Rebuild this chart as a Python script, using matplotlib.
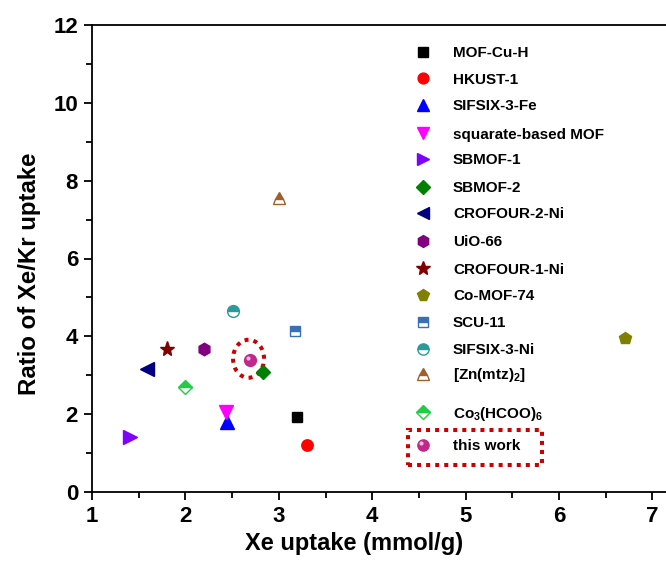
import matplotlib
matplotlib.use("Agg")
import matplotlib.pyplot as plt
from matplotlib.patches import Ellipse, Rectangle
from matplotlib.transforms import ScaledTranslation
from matplotlib.ticker import MultipleLocator

plt.rcParams['font.family'] = ['Liberation Sans', 'DejaVu Sans']
plt.rcParams['font.weight'] = 'bold'
plt.rcParams['mathtext.fontset'] = 'custom'
plt.rcParams['mathtext.rm'] = 'Liberation Sans:bold'
plt.rcParams['mathtext.bf'] = 'Liberation Sans:bold'
plt.rcParams['mathtext.default'] = 'bf'

# data
names = ["MOF-Cu-H", "HKUST-1", "SIFSIX-3-Fe", "squarate-based MOF", "SBMOF-1",
         "SBMOF-2", "CROFOUR-2-Ni", "UiO-66", "CROFOUR-1-Ni", "Co-MOF-74",
         "SCU-11", "SIFSIX-3-Ni", "[Zn(mtz)$_2$]", "Co$_3$(HCOO)$_6$", "this work"]
xe_uptake = [3.19, 3.30, 2.45, 2.43, 1.41, 2.83, 1.59, 2.20, 1.80, 6.71,
             3.17, 2.51, 3.00, 2.00, 2.69]
ratio = [1.92, 1.22, 1.81, 2.06, 1.42, 3.09, 3.15, 3.68, 3.68, 3.95,
         4.14, 4.66, 7.55, 2.69, 3.39]

markers = ['s', 'o', '^', 'v', '>', 'D', '<', 'h', '*', 'p', 's', 'o', '^', 'D', 'o']
colors = ['#000000', '#FF0000', '#0000FF', '#FF00FF', '#8000FF', '#008000', '#000080',
          '#800080', '#800000', '#808000', '#3A6EB5', '#2A9A9A', '#A0602A', '#22CC44', '#C0288C']
fills = ['full'] * 10 + ['top', 'top', 'top', 'top', 'full']
sizes = [7.3, 8.2, 9.5, 9.5, 9.5, 7, 9.5, 9, 11, 9, 7.5, 8.5, 9, 7.5, 8.5]

# legend layout (pixel rows from top of figure)
leg_rows_px = [51.7, 78.3, 105, 133, 159, 186.7, 213, 240.7, 268, 295,
               321.7, 349, 374, 412.3, 445]

W, H = 666, 576
AX_L, AX_B, AX_W, AX_H = 92, 84, 574, 467

fig = plt.figure(figsize=(W / 100, H / 100), dpi=100)
ax = fig.add_axes([AX_L / W, AX_B / H, AX_W / W, AX_H / H])

for n, x, y, m, c, f, s in zip(names, xe_uptake, ratio, markers, colors, fills, sizes):
    ax.plot([x], [y], linestyle='none', marker=m, color=c, markersize=s,
            fillstyle=f, markerfacecoloralt='white', markeredgecolor=c,
            markeredgewidth=1.0, zorder=3)

hl = ScaledTranslation(-1.5 / 72, 1.5 / 72, fig.dpi_scale_trans)
ax.plot([xe_uptake[-1]], [ratio[-1]], linestyle='none', marker='o', markersize=3,
        color='#F4B8DC', markeredgewidth=0, transform=ax.transData + hl, zorder=4)

# dotted circle around this work
ax.add_patch(Ellipse((2.676, 3.424), 0.332, 0.977, fill=False, edgecolor='#CC0000',
                     linewidth=2.9, linestyle=(0, (1, 1.25)), zorder=2))

ax.set_xlim(1, 7.145)
ax.set_ylim(0, 12)
ax.xaxis.set_major_locator(MultipleLocator(1))
ax.xaxis.set_minor_locator(MultipleLocator(0.5))
ax.yaxis.set_major_locator(MultipleLocator(2))
ax.yaxis.set_minor_locator(MultipleLocator(1))
ax.tick_params(which='both', direction='out', width=1.3, labelsize=16)
ax.tick_params(which='major', length=6, pad=4)
ax.tick_params(which='minor', length=4)
ax.spines['right'].set_visible(False)
for sp in ['left', 'bottom', 'top']:
    ax.spines[sp].set_linewidth(1.3)
for t in ax.get_xticklabels() + ax.get_yticklabels():
    t.set_fontweight('bold')

ax.set_xlabel('Xe uptake (mmol/g)', fontsize=17, fontweight='bold')
ax.xaxis.set_label_coords(0.457, -0.085)
ax.set_ylabel('Ratio of Xe/Kr uptake', fontsize=17.3, fontweight='bold')
ax.yaxis.set_label_coords(-0.089, 0.468)

# manual legend
mx = (423 - AX_L) / AX_W
tx = (453 - AX_L) / AX_W
for n, m, c, f, s, ry in zip(names, markers, colors, fills, sizes, leg_rows_px):
    yy = (H - AX_B - ry) / AX_H
    ax.plot([mx], [yy], transform=ax.transAxes, clip_on=False, linestyle='none',
            marker=m, color=c, markersize=s * 0.95, fillstyle=f,
            markerfacecoloralt='white', markeredgecolor=c, markeredgewidth=1.0, zorder=5)
    yb = (H - AX_B - (ry + 5.5)) / AX_H
    ax.text(tx, yb, n, transform=ax.transAxes, fontsize=11, fontweight='bold',
            ha='left', va='baseline', clip_on=False)
    if n == 'this work':
        hl2 = ScaledTranslation(-1.5 / 72, 1.5 / 72, fig.dpi_scale_trans)
        ax.plot([mx], [yy], transform=ax.transAxes + hl2, clip_on=False, linestyle='none',
                marker='o', markersize=3, color='#F4B8DC', markeredgewidth=0, zorder=6)

ax.add_patch(Rectangle((0.5505, 0.0578), 0.2335, 0.075, transform=ax.transAxes,
                       fill=False, edgecolor='#CC0000', linewidth=2.9,
                       linestyle=(0, (1, 1.25)), clip_on=False, zorder=5))

fig.savefig('out.png', dpi=100)
